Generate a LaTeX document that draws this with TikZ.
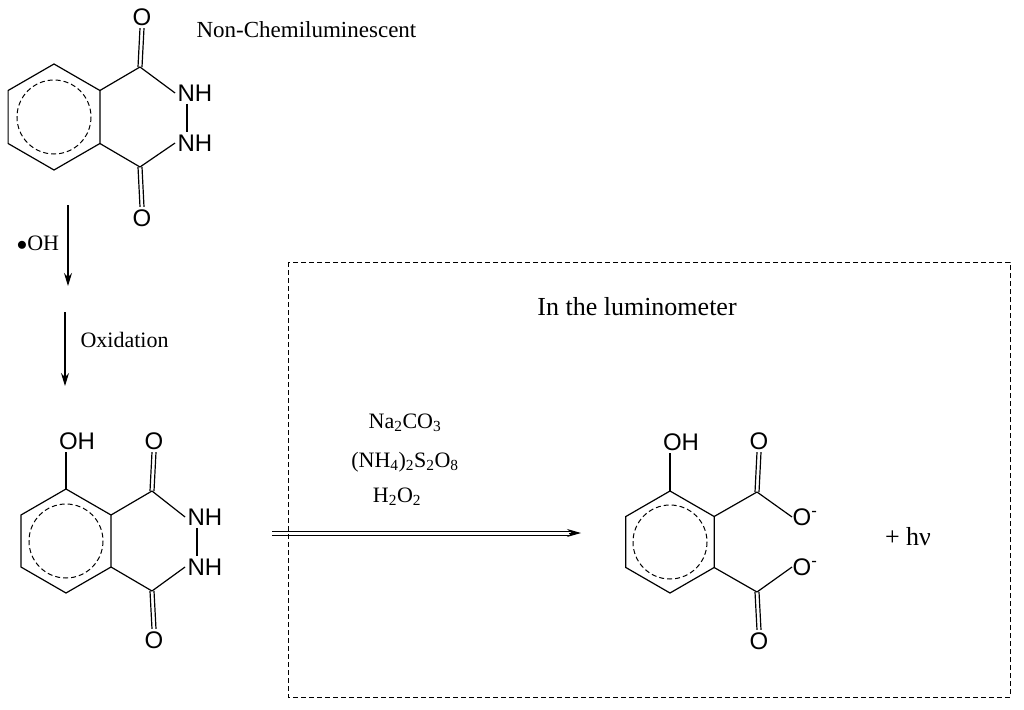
\documentclass[tikz,border=0pt]{standalone}
\usepackage{fontspec}
\setmainfont{Liberation Serif}
\newfontfamily\atomfont{Liberation Sans}
\usetikzlibrary{arrows.meta,calc}
\begin{document}
\begin{tikzpicture}[x=1pt,y=-1pt,line width=1.2pt,
  atom/.style={font=\atomfont\fontsize{24}{24}\selectfont,inner sep=2pt},
  lab/.style={font=\fontsize{22}{24}\selectfont,inner sep=1pt},
  ring/.style={line width=1pt,dash pattern=on 5pt off 3pt},
  rarrow/.style={-{Stealth[length=13pt,width=8pt]},line width=1.2pt}]
\newcommand\dblv[2]{\draw ([xshift=-2]#1)--([xshift=-2]#2); \draw ([xshift=2]#1)--([xshift=2]#2);}
\useasboundingbox (0,0) rectangle (1024,709);
% ---------- top molecule
\foreach \n/\a in {1/-90,2/-30,3/30,4/90,5/150,6/210}
  \coordinate (t\n) at ($(54,117)+(\a:53)$);
\draw (t1)--(t2)--(t3)--(t4)--(t5)--(t6)--cycle;
\draw[ring] (54,117) circle (37);
\coordinate (tc1) at (140,67);
\coordinate (tc4) at (140,167);
\node[atom] (to1) at (142,17) {O};
\node[atom] (to4) at (142,218) {O};
\node[atom] (tn1) at (195,93) {NH};
\node[atom] (tn2) at (195,143) {NH};
\draw (t2)--(tc1); \draw (t3)--(tc4);
\dblv{tc1}{to1.south} \dblv{tc4}{to4.north}
\draw (tc1)--(tn1.west); \draw (tc4)--(tn2.west);
\draw ([xshift=12]tn1.south west)--([xshift=12]tn2.north west);
\node[lab,anchor=west,font=\fontsize{23}{24}\selectfont] (ncl) at (195,30) {Non-Chemiluminescent};
% ---------- arrows left
\coordinate (a1s) at (68,205); \coordinate (a1e) at (68,286);
\draw[rarrow] (a1s)--(a1e);
\node[lab] (oh) at (38,243) {$\bullet$OH};
\coordinate (a2s) at (65,312); \coordinate (a2e) at (65,386);
\draw[rarrow] (a2s)--(a2e);
\node[lab,anchor=west] (ox) at (79,340) {Oxidation};
% ---------- bottom-left molecule
\foreach \n/\a in {1/-90,2/-30,3/30,4/90,5/150,6/210}
  \coordinate (b\n) at ($(66,541)+(\a:52)$);
\draw (b1)--(b2)--(b3)--(b4)--(b5)--(b6)--cycle;
\draw[ring] (66,541) circle (37);
\coordinate (bc1) at (152,491);
\coordinate (bc4) at (152,591);
\node[atom] (bo1) at (154,441) {O};
\node[atom] (bo4) at (154,640) {O};
\node[atom] (bn1) at (205,517) {NH};
\node[atom] (bn2) at (205,567) {NH};
\node[atom] (boh) at (77,441) {OH};
\draw (b1)--(b1|-boh.south);
\draw (b2)--(bc1); \draw (b3)--(bc4);
\dblv{bc1}{bo1.south} \dblv{bc4}{bo4.north}
\draw (bc1)--(bn1.west); \draw (bc4)--(bn2.west);
\draw ([xshift=12]bn1.south west)--([xshift=12]bn2.north west);
% ---------- reaction arrow
\node[lab] (r1) at (405,423) {Na\textsubscript{2}CO\textsubscript{3}};
\node[lab] (r2) at (405,462) {(NH\textsubscript{4})\textsubscript{2}S\textsubscript{2}O\textsubscript{8}};
\node[lab] (r3) at (397,497) {H\textsubscript{2}O\textsubscript{2}};
\coordinate (hs) at (272,533); \coordinate (he) at (581,533);
\draw[line width=1pt] ([yshift=-2]hs)--([yshift=-2,xshift=-10]he);
\draw[line width=1pt] ([yshift=2]hs)--([yshift=2,xshift=-10]he);
\draw[-{Stealth[length=14pt,width=8pt]},line width=1pt] ([xshift=-12]he)--(he);
% ---------- box
\draw[line width=1pt,dash pattern=on 5pt off 3pt] (288,262) rectangle (1010,697);
\node[lab,font=\fontsize{26}{28}\selectfont] (lum) at (637,307) {In the luminometer};
% ---------- right molecule
\foreach \n/\a in {1/-90,2/-30,3/30,4/90,5/150,6/210}
  \coordinate (p\n) at ($(670,542)+(\a:51)$);
\draw (p1)--(p2)--(p3)--(p4)--(p5)--(p6)--cycle;
\draw[ring] (670,542) circle (37);
\node[atom] (poh) at (681,442) {OH};
\draw (p1)--(p1|-poh.south);
\coordinate (pc1) at (757,492);
\coordinate (pc2) at (757,592);
\node[atom] (po1) at (759,441) {O};
\node[atom] (po2) at (759,641) {O};
\node[atom] (pm1) at (805,517) {O\textsuperscript{-}};
\node[atom] (pm2) at (805,567) {O\textsuperscript{-}};
\draw (p2)--(pc1); \draw (p3)--(pc2);
\dblv{pc1}{po1.south} \dblv{pc2}{po2.north}
\draw (pc1)--([xshift=2]pm1.west); \draw (pc2)--([xshift=2]pm2.west);
\node[lab,font=\fontsize{26}{28}\selectfont] (hv) at (908,537) {+ hν};
\end{tikzpicture}
\end{document}
